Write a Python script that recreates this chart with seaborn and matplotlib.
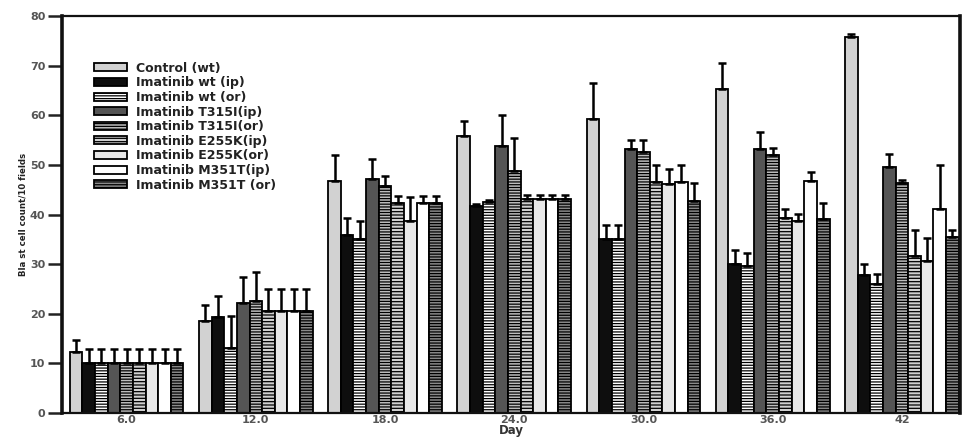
import numpy as np
import pandas as pd
import matplotlib
matplotlib.use("Agg")
import matplotlib.pyplot as plt
import seaborn as sns

# Day groups on the x axis
days = ["6.0", "12.0", "18.0", "24.0", "30.0", "36.0", "42"]

# Treatment groups (legend order)
groups = [
    "Control (wt)",
    "Imatinib wt (ip)",
    "Imatinib wt (or)",
    "Imatinib T315I(ip)",
    "Imatinib T315I(or)",
    "Imatinib E255K(ip)",
    "Imatinib E255K(or)",
    "Imatinib M351T(ip)",
    "Imatinib M351T (or)",
]

# Mean blast cell counts per 10 fields, one list per group
control_wt = [12.3, 18.6, 46.8, 55.9, 59.3, 65.3, 75.7]
wt_ip = [10.0, 19.4, 35.9, 41.7, 35.1, 30.0, 27.8]
wt_or = [10.0, 13.1, 35.1, 42.6, 35.1, 29.6, 26.0]
t315i_ip = [10.0, 22.2, 47.2, 53.9, 53.2, 53.2, 49.5]
t315i_or = [10.0, 22.6, 45.7, 48.7, 52.7, 52.0, 46.4]
e255k_ip = [10.0, 20.6, 42.3, 43.1, 46.6, 39.4, 31.7]
e255k_or = [10.0, 20.6, 38.6, 43.1, 46.2, 38.6, 30.7]
m351t_ip = [10.0, 20.6, 42.3, 43.1, 46.6, 46.8, 41.1]
m351t_or = [10.0, 20.6, 42.3, 43.1, 42.8, 39.1, 35.4]

# Upper error (SD) for each group
control_wt_err = [2.4, 3.2, 5.3, 3.0, 7.2, 5.3, 0.7]
wt_ip_err = [3.0, 4.2, 3.4, 0.4, 2.7, 2.9, 2.2]
wt_or_err = [3.0, 6.5, 3.5, 0.3, 2.7, 2.7, 2.0]
t315i_ip_err = [3.0, 5.2, 4.0, 6.2, 1.9, 3.5, 2.7]
t315i_or_err = [3.0, 5.8, 2.1, 6.7, 2.4, 1.5, 0.6]
e255k_ip_err = [3.0, 4.3, 1.4, 0.9, 3.4, 1.7, 5.1]
e255k_or_err = [3.0, 4.3, 4.9, 0.9, 2.9, 1.5, 4.5]
m351t_ip_err = [3.0, 4.3, 1.4, 0.9, 3.4, 1.7, 8.8]
m351t_or_err = [3.0, 4.3, 1.4, 0.9, 3.6, 3.2, 1.5]

means = [control_wt, wt_ip, wt_or, t315i_ip, t315i_or,
         e255k_ip, e255k_or, m351t_ip, m351t_or]
errors = [control_wt_err, wt_ip_err, wt_or_err, t315i_ip_err, t315i_or_err,
          e255k_ip_err, e255k_or_err, m351t_ip_err, m351t_or_err]

rows = []
for g, vals in zip(groups, means):
    for d, v in zip(days, vals):
        rows.append({"Day": d, "Group": g, "Count": v})
df = pd.DataFrame(rows)

# Grey-scale fills and hatching per group
fills = ["#d2d2d2", "#0e0e0e", "#ffffff", "#555555", "#bdbdbd",
         "#cfcfcf", "#e8e8e8", "#ffffff", "#8a8a8a"]
hatches = [None, None, "------", None, "------",
           "-----", None, None, "------"]

sns.set_style("white")
plt.rcParams["font.family"] = ["DejaVu Sans"]
plt.rcParams["hatch.linewidth"] = 0.9

fig = plt.figure(figsize=(9.66, 4.41), dpi=100)
ax = fig.add_axes([0.0642, 0.0635, 0.9296, 0.900])

sns.barplot(data=df, x="Day", y="Count", hue="Group", order=days,
            hue_order=groups, palette=dict(zip(groups, fills)),
            width=0.88, gap=0, errorbar=None, edgecolor="black",
            linewidth=1.3, saturation=1, ax=ax)

bar_containers = list(ax.containers)
for cont, h, fc in zip(bar_containers, hatches, fills):
    for p in cont.patches:
        p.set_facecolor(fc)
        p.set_edgecolor("black")
        p.set_linewidth(1.3)
        if h:
            p.set_hatch(h)

# Upper error bars at the bar centres
for cont, vals, errs in zip(bar_containers, means, errors):
    xs = [p.get_x() + p.get_width() / 2 for p in cont.patches]
    ax.errorbar(xs, vals, yerr=[np.zeros(len(errs)), errs], fmt="none",
                ecolor="black", elinewidth=1.8, capsize=3, capthick=1.8,
                zorder=1)

ax.set_ylim(0, 80)
ax.set_xlim(-0.5, 6.45)
ax.set_yticks(np.arange(0, 81, 10))

for side in ["left", "right"]:
    ax.spines[side].set_linewidth(2.6)
for side in ["top", "bottom"]:
    ax.spines[side].set_linewidth(1.6)
for s in ax.spines.values():
    s.set_color("#111111")
    s.set_visible(True)

ax.tick_params(axis="y", direction="out", length=10, width=1.8,
               color="#222222", labelsize=8, labelcolor="#555555", pad=2, left=True)
ax.tick_params(axis="x", length=0, labelsize=8, labelcolor="#555555", pad=1.5)
for lab in ax.get_xticklabels() + ax.get_yticklabels():
    lab.set_fontweight("bold")

ax.set_xlabel("Day", fontsize=8.5, fontweight="bold", color="#333333", labelpad=-1)
ax.set_ylabel("Bla st cell count/10 fields", fontsize=6.2,
              family=["DejaVu Sans Condensed", "Liberation Sans Narrow", "DejaVu Sans"],
              fontweight="bold", color="#222222", labelpad=2)

handles = [c.patches[0] for c in bar_containers]
leg = ax.legend(handles, groups, loc="upper left",
                bbox_to_anchor=(0.036, 0.885), frameon=False,
                fontsize=9, labelspacing=0.13, handlelength=2.65,
                handleheight=0.6, handletextpad=0.7, borderpad=0,
                borderaxespad=0)
for t in leg.get_texts():
    t.set_fontweight("bold")
    t.set_color("#222222")

fig.savefig("out.png", dpi=100, facecolor="white")
